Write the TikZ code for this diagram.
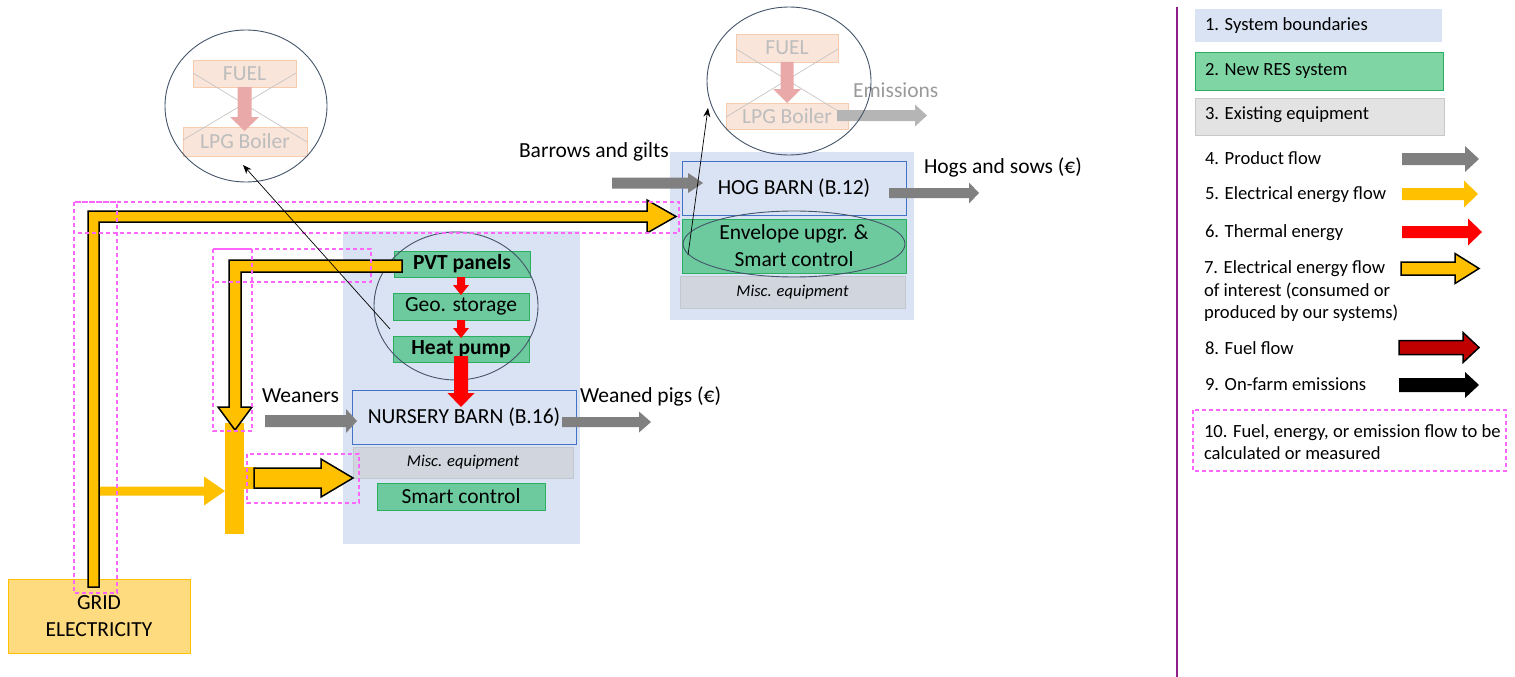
\documentclass[tikz,border=0pt]{standalone}
\usepackage{fontspec}
\setmainfont{Carlito}
\usetikzlibrary{calc,shapes.geometric,arrows.meta}
\definecolor{bndblue}{HTML}{DAE3F3}
\definecolor{barnline}{HTML}{4472C4}
\definecolor{resfill}{HTML}{6CCA9E}
\definecolor{resline}{HTML}{2BAE5D}
\definecolor{legres}{HTML}{7FD6A4}
\definecolor{miscfill}{HTML}{D0D5DE}
\definecolor{miscline}{HTML}{C3C8D0}
\definecolor{exfill}{HTML}{E3E3E3}
\definecolor{exline}{HTML}{C8C8C8}
\definecolor{elec}{HTML}{FFC000}
\definecolor{gridfill}{HTML}{FFDB7F}
\definecolor{prod}{HTML}{808080}
\definecolor{therm}{HTML}{FF0000}
\definecolor{fuelc}{HTML}{C00000}
\definecolor{measc}{HTML}{FF66FF}
\definecolor{circc}{HTML}{44546A}
\definecolor{fadefill}{HTML}{F9E5DA}
\definecolor{fadeline}{HTML}{F6CBAE}
\definecolor{fadetext}{HTML}{BDBDBD}
\definecolor{fadearrow}{HTML}{EAA9A9}
\definecolor{fadecross}{HTML}{C8C4C2}
\definecolor{emisc}{HTML}{B5B5B5}
\definecolor{purp}{HTML}{8E1F8A}
\newcommand{\fsM}{\fontsize{21.5}{27}\selectfont}
\newcommand{\fsS}{\fontsize{16.5}{19}\selectfont}
\newcommand{\fsL}{\fontsize{18.6}{22.5}\selectfont}
% horizontal block arrow: style, start, tip, shaft half, head half, head length
\newcommand{\harr}[6]{\path[#1] let \p1=(#2), \p2=(#3) in
  (\x1,\y1+#4) -- (\x2-#6,\y1+#4) -- (\x2-#6,\y1+#5) -- (\x2,\y1) --
  (\x2-#6,\y1-#5) -- (\x2-#6,\y1-#4) -- (\x1,\y1-#4) -- cycle;}
% downward block arrow
\newcommand{\darr}[6]{\path[#1] let \p1=(#2), \p2=(#3) in
  (\x1-#4,\y1) -- (\x1-#4,\y2+#6) -- (\x1-#5,\y2+#6) -- (\x1,\y2) --
  (\x1+#5,\y2+#6) -- (\x1+#4,\y2+#6) -- (\x1+#4,\y1) -- cycle;}
\tikzset{
  bnd/.style={fill=bndblue, draw=none, anchor=north west},
  barn/.style={fill=bndblue, draw=barnline, line width=0.8pt, anchor=north west},
  res/.style={fill=resfill, draw=resline, line width=0.8pt, anchor=north west},
  misc/.style={fill=miscfill, draw=miscline, line width=0.8pt, anchor=north west, font=\fsS\itshape},
  faded/.style={fill=fadefill, draw=fadeline, line width=0.8pt, anchor=north west, text=fadetext},
  ring/.style={ellipse, draw=circc, line width=0.9pt},
  ptr/.style={draw=black, line width=0.7pt, -{Stealth[length=9pt,width=7pt]}},
  measbox/.style={draw=measc, dash pattern=on 4pt off 3pt, line width=1.4pt},
  elecout/.style={fill=elec, draw=black, line width=1.5pt, line join=miter},
  fuelout/.style={fill=fuelc, draw=black, line width=1.5pt, line join=miter},
  elecflat/.style={fill=elec},
  prodarr/.style={fill=prod},
  thermarr/.style={fill=therm},
  lbl/.style={anchor=base west},
  leg/.style={anchor=base west, font=\fsL},
}
\begin{document}
\begin{tikzpicture}[x=1pt,y=-1pt,font=\fsM,every node/.style={inner sep=0pt,outer sep=0pt}]
\useasboundingbox (0,0) rectangle (1515,677);
% system boundaries
\node[bnd, minimum width=244, minimum height=168] (hogsys) at (670,152) {};
\node[bnd, minimum width=237, minimum height=313] (nursys) at (343,231) {};
% hog barn
\node[barn, minimum width=224, minimum height=54] (hog) at (682,161) {HOG BARN (B.12)};
\node[res, minimum width=224, minimum height=54, align=center] (env) at (682,219) {Envelope upgr. \&\\Smart control};
\node[misc, minimum width=225, minimum height=32] (hogmisc) at (680,276) {Misc. equipment};
% nursery
\node[res, minimum width=136, minimum height=26, font=\fsM\bfseries] (pvt) at (394,251) {PVT panels};
\node[res, minimum width=136, minimum height=27] (geo) at (393,293) {Geo. storage};
\node[res, minimum width=136, minimum height=26, font=\fsM\bfseries] (hp) at (393,336) {Heat pump};
\node[barn, minimum width=224, minimum height=54] (nur) at (352,390) {NURSERY BARN (B.16)};
\node[misc, minimum width=220, minimum height=31] (nurmisc) at (353,447) {Misc. equipment};
\node[res, minimum width=168, minimum height=27] (smart) at (377,483) {Smart control};
% grid
\node[fill=gridfill, draw=elec, line width=0.8pt, anchor=north west, minimum width=182, minimum height=74, align=center] (grid) at (8,579) {GRID\\ELECTRICITY};
% faded old system, left
\node[faded, minimum width=103, minimum height=27] (fuelA) at (193,60) {FUEL};
\node[faded, minimum width=124, minimum height=29] (lpgA) at (183,127) {LPG Boiler};
\draw[fadecross, line width=0.7pt] (193,73) -- (307,142) (296,73) -- (183,140);
\coordinate (fuelAt) at (244.5,131);
\darr{fill=fadearrow}{fuelA.south -| fuelAt}{fuelAt}{7}{14.5}{14}
% faded old system, right
\node[faded, minimum width=102, minimum height=28] (fuelB) at (736,34) {FUEL};
\node[faded, minimum width=122, minimum height=26] (lpgB) at (726,103) {LPG Boiler};
\draw[fadecross, line width=0.7pt] (736,49) -- (848,117) (838,49) -- (726,117);
\coordinate (fuelBt) at (787,103);
\darr{fill=fadearrow}{fuelB.south -| fuelBt}{fuelBt}{6.5}{14}{14}
\coordinate (emS) at (837,115.5);
\coordinate (emT) at (927,115.5);
\harr{fill=emisc}{emS}{emT}{5.5}{11}{12}
\node[lbl, text=emisc!85!black] (emtxt) at (853,97) {Emissions};
% rings
\node[ring, minimum width=162, minimum height=152] (ringA) at (246,106) {};
\node[ring, minimum width=164, minimum height=148] (ringB) at (789,81) {};
\node[ring, minimum width=164, minimum height=148] (ringC) at (456,306) {};
\node[ring, minimum width=222, minimum height=66] (ringD) at (794,244) {};
% product flows
\coordinate (barS) at (612,183); \coordinate (barT) at (703,183);
\harr{prodarr}{barS}{barT}{5.5}{10}{15}
\coordinate (hogsS) at (889,193); \coordinate (hogsT) at (979,193);
\harr{prodarr}{hogsS}{hogsT}{5}{10.5}{10}
\coordinate (weanS) at (265,421); \coordinate (weanT) at (357,421);
\harr{prodarr}{weanS}{weanT}{6}{12}{11}
\coordinate (weanedS) at (562,422); \coordinate (weanedT) at (651,422);
\harr{prodarr}{weanedS}{weanedT}{5}{10.5}{12}
\node[lbl] (tbar) at (519,157) {Barrows and gilts};
\node[lbl] (thogs) at (924,173) {Hogs and sows (€)};
\node[lbl] (twean) at (262,402) {Weaners};
\node[lbl] (tweaned) at (580,402) {Weaned pigs (€)};
% thermal flows
\darr{thermarr}{461,277}{461,295}{4}{8}{10}
\darr{thermarr}{461,320}{461,338}{4}{8}{10}
\darr{thermarr}{461,356}{461,407}{7}{13.5}{14}
% electrical
\fill[elec] (225,423) rectangle (244,534);
\coordinate (gridJ) at (99,491); \coordinate (busL) at (225,491);
\harr{elecflat}{gridJ}{busL}{4.5}{14.5}{21}
\fill[elec] (243,467) rectangle (256,489);
\coordinate (busR) at (254,478); \coordinate (nurL) at (353,478);
\harr{elecout}{busR}{nurL}{10}{19}{32}
\draw[elecout] (88,587) -- (88,211) -- (647,211) -- (647,200) -- (676,216.5) -- (647,233) -- (647,222) -- (99,222) -- (99,587) -- cycle;
\draw[elecout] (402,260) -- (229,260) -- (229,407) -- (218,407) -- (235,430) -- (252,407) -- (241,407) -- (241,272) -- (402,272) -- cycle;
% measured flows
\draw[measbox] (74,202) rectangle (679,233);
\draw[measbox] (74,202) rectangle (117,593);
\draw[measbox] (213,249) rectangle (371,282);
\draw[measbox] (213,249) rectangle (252,431);
\draw[measbox] (247,454) rectangle (359,503);
% pointers
\coordinate (pA1) at (390,329); \coordinate (pA2) at (243,165);
\draw[ptr] (pA1) -- (pA2);
\coordinate (pB1) at (688,255); \coordinate (pB2) at (708,108);
\draw[ptr] (pB1) -- (pB2);
% legend
\draw[purp, line width=1.5pt] (1177,7) -- (1177,677);
\node[fill=bndblue, anchor=north west, minimum width=247, minimum height=33] (leg1) at (1195,9) {};
\node[fill=legres, draw=resline, line width=0.8pt, anchor=north west, minimum width=248, minimum height=38] (leg2) at (1195,52) {};
\node[fill=exfill, draw=exline, line width=0.8pt, anchor=north west, minimum width=249, minimum height=37] (leg3) at (1195,98) {};
\node[leg] (l1) at (1205,31) {1. System boundaries};
\node[leg] (l2) at (1205,76) {2. New RES system};
\node[leg] (l3) at (1205,119) {3. Existing equipment};
\node[leg] (l4) at (1205,164) {4. Product flow};
\node[leg] (l5) at (1205,199) {5. Electrical energy flow};
\node[leg] (l6) at (1205,237) {6. Thermal energy};
\node[leg] (l7a) at (1204,273) {7. Electrical energy flow};
\node[leg] (l7b) at (1204,296) {of interest (consumed or};
\node[leg] (l7c) at (1204,318) {produced by our systems)};
\node[leg] (l8) at (1205,354) {8. Fuel flow};
\node[leg] (l9) at (1205,390) {9. On-farm emissions};
\node[leg] (l10a) at (1204,437) {10. Fuel, energy, or emission flow to be};
\node[leg] (l10b) at (1204,459) {calculated or measured};
\harr{prodarr}{1402,159}{1479,159}{6}{13}{14}
\harr{elecflat}{1402,194}{1478,194}{6}{13.5}{14}
\harr{thermarr}{1402,232}{1482,232}{6}{13.5}{14}
\harr{elecout}{1401,268.5}{1479,268.5}{6.5}{15}{24}
\harr{fuelout}{1399,347.5}{1479,347.5}{7}{15}{16}
\harr{fill=black}{1399,385}{1479,385}{7}{13}{14}
\draw[measbox] (1193,410) rectangle (1506,471);
\end{tikzpicture}
\end{document}
